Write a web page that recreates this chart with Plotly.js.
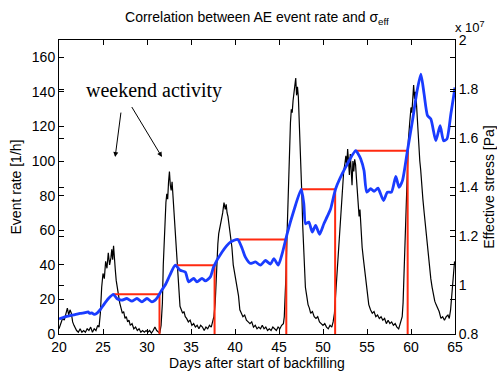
<!DOCTYPE html>
<html>
<head>
<meta charset="utf-8">
<script src="https://cdn.plot.ly/plotly-3.0.1.min.js"></script>
<style>html,body{margin:0;padding:0;background:#fff;}#chart{width:497px;height:371px;}</style>
</head>
<body>
<div id="chart"></div>
<script>
// ---- Event rate (black, left axis) ----
var rateDays = [20.0,20.2,20.4,20.6,20.8,20.95,21.1,21.25,21.4,21.55,21.7,21.85,22.0,22.2,22.4,22.6,22.8,23.0,23.2,23.4,23.6,23.8,24.0,24.2,24.4,24.55,24.7,24.85,25.0,25.15,25.3,25.45,25.6,25.75,25.9,26.0,26.1,26.2,26.3,26.4,26.5,26.6,26.75,26.9,27.05,27.2,27.35,27.5,27.65,27.8,27.95,28.1,28.3,28.5,28.7,28.9,29.1,29.3,29.5,29.7,29.9,30.1,30.3,30.5,30.7,30.9,31.1,31.3,31.45,31.6,31.75,31.85,31.95,32.05,32.15,32.25,32.35,32.45,32.55,32.65,32.75,32.85,32.95,33.05,33.15,33.25,33.35,33.45,33.55,33.65,33.75,33.9,34.05,34.2,34.35,34.5,34.7,34.9,35.1,35.3,35.5,35.7,35.9,36.1,36.3,36.5,36.7,36.9,37.1,37.3,37.45,37.6,37.75,37.85,37.95,38.05,38.15,38.3,38.45,38.6,38.75,38.9,39.0,39.1,39.2,39.35,39.5,39.65,39.8,39.95,40.1,40.25,40.4,40.55,40.7,40.9,41.1,41.3,41.5,41.7,41.9,42.1,42.3,42.5,42.7,42.9,43.1,43.3,43.5,43.7,43.9,44.1,44.3,44.5,44.7,44.9,45.1,45.3,45.5,45.6,45.7,45.8,45.9,46.0,46.1,46.2,46.3,46.4,46.5,46.6,46.7,46.8,46.9,47.0,47.1,47.2,47.3,47.4,47.5,47.6,47.7,47.8,47.9,48.0,48.15,48.3,48.45,48.6,48.8,49.0,49.2,49.4,49.6,49.8,50.0,50.2,50.4,50.6,50.8,51.0,51.15,51.3,51.45,51.6,51.75,51.9,52.05,52.2,52.35,52.5,52.6,52.7,52.8,52.9,53.0,53.1,53.2,53.3,53.4,53.5,53.6,53.7,53.8,53.9,54.0,54.1,54.2,54.3,54.45,54.6,54.75,54.9,55.05,55.2,55.4,55.6,55.8,56.0,56.2,56.4,56.6,56.8,57.0,57.2,57.4,57.6,57.8,58.0,58.2,58.4,58.6,58.8,59.0,59.1,59.2,59.3,59.4,59.5,59.6,59.7,59.85,60.0,60.1,60.2,60.3,60.4,60.5,60.6,60.7,60.8,60.9,61.0,61.1,61.2,61.35,61.5,61.65,61.8,61.95,62.1,62.25,62.4,62.55,62.7,62.85,63.0,63.2,63.4,63.6,63.8,64.0,64.2,64.35,64.5,64.65,64.8,64.95];
var rateValues = [3,6,9,8,12,15,11,14,12,7,5,3,2,1,3,1,2,1,3,2,4,1,3,2,5,4,12,27,35,32,42,38,47,40,44,49,43,51,46,37,31,27,22,18,15,12,13,9,10,7,8,5,6,3,4,2,3,1,2,1,2,1,2,0.5,2,4,2,1,0.5,5,18,40,56,70,76,81,78,88,94,86,83,88,80,72,66,56,46,37,28,20,16,14,12,13,10,9,7,8,5,6,4,5,3,5,4,2,4,3,5,4,7,10,18,32,45,52,58,63,66,70,76,72,75,70,68,62,56,50,40,36,30,27,22,14,12,10,11,8,7,6,7,4,5,3,4,3,5,3,4,2,3,2,4,3,2,4,3,5,6,10,20,35,55,75,95,108,122,130,128,135,140,145,148,138,143,137,125,110,95,80,62,48,36,27,22,17,15,12,13,10,9,10,7,6,5,6,4,3,5,4,7,12,24,35,48,62,75,86,94,99,103,97,107,100,92,104,95,86,100,94,101,98,90,82,70,68,72,60,50,43,36,27,22,17,14,12,13,10,11,9,10,8,9,6,8,6,7,5,6,4,3,6,10,18,33,50,70,85,100,112,122,131,128,138,144,136,140,135,125,118,108,100,95,85,78,70,62,55,45,40,32,27,22,19,17,15,13,9,10,8,10,11,9,14,24,32,42];

// ---- Effective stress (blue, right axis, units of 10^7 Pa) ----
var stressDays = [20.0,20.68,21.28,21.82,22.4,22.96,23.3,23.5,23.72,24.0,24.29,24.7,25.05,25.62,26.18,26.57,27.14,27.71,28.28,28.85,29.42,29.99,30.56,30.93,31.24,31.6,32.07,32.6,33.21,33.78,34.35,34.73,35.30,35.68,36.25,36.63,37.20,37.57,38.53,39.48,40.31,40.81,41.18,41.75,42.32,42.89,43.46,44.03,44.41,44.91,45.36,45.93,46.69,47.53,47.82,48.02,48.39,48.78,49.16,49.61,50.10,50.49,50.87,51.44,52.57,53.71,54.0,54.28,54.66,54.97,55.42,55.80,56.25,56.87,57.32,57.78,58.27,58.64,59.03,59.60,60.17,60.66,61.12,61.49,61.88,62.26,62.82,63.31,63.70,64.08,64.53,65.0];
var stressValues = [0.861,0.870,0.875,0.879,0.884,0.887,0.890,0.884,0.886,0.880,0.884,0.900,0.918,0.945,0.962,0.945,0.938,0.945,0.934,0.945,0.931,0.945,0.931,0.938,0.952,0.975,1.000,1.040,1.081,1.060,1.053,1.013,1.027,1.013,1.027,1.017,1.033,1.074,1.135,1.175,1.186,1.149,1.114,1.088,1.094,1.081,1.100,1.085,1.108,1.081,1.128,1.210,1.304,1.391,1.332,1.250,1.257,1.216,1.243,1.207,1.250,1.280,1.311,1.393,1.481,1.548,1.535,1.515,1.467,1.379,1.393,1.382,1.395,1.345,1.379,1.379,1.443,1.399,1.426,1.549,1.671,1.786,1.861,1.779,1.691,1.677,1.589,1.650,1.589,1.596,1.698,1.806];

// ---- Stress steps (red, right axis) ----
var stepStart = [26.2, 33.3, 40.3, 47.5, 53.75];
var stepEnd   = [31.42, 37.68, 45.83, 51.38, 59.62];
var stepLevel = [0.962, 1.081, 1.186, 1.391, 1.548];
var stepFloor = 0.8;

// ---- Ticks ----
var xTicks = [20,25,30,35,40,45,50,55,60,65];
var leftTicks = [0,20,40,60,80,100,120,140,160];
var rightTicks = [0.8,1.0,1.2,1.4,1.6,1.8,2.0];
var rightTickLabels = ['0.8','1','1.2','1.4','1.6','1.8','2'];

var redX = [], redY = [];
for (var i = 0; i < stepStart.length; i++) {
  redX.push(stepStart[i], stepEnd[i], stepEnd[i], null);
  redY.push(stepLevel[i], stepLevel[i], stepFloor, null);
}

var traces = [
  {x: rateDays, y: rateValues, type:'scatter', mode:'lines', line:{color:'black', width:1.2}, yaxis:'y', hoverinfo:'skip'},
  {x: redX, y: redY, type:'scatter', mode:'lines', line:{color:'#ff2a10', width:2}, yaxis:'y2', connectgaps:false, hoverinfo:'skip'},
  {x: stressDays, y: stressValues, type:'scatter', mode:'lines', line:{color:'#1a3cff', width:2.8, shape:'spline', smoothing:0.6}, yaxis:'y2', hoverinfo:'skip'}
];

var axisCommon = {showgrid:false, zeroline:false, showline:true, linecolor:'black', linewidth:1, ticks:'inside', ticklen:5, tickcolor:'black', tickwidth:1, tickfont:{size:14, color:'black'}};

var layout = {
  width:497, height:371,
  margin:{l:59, r:42, t:40, b:37, pad:0},
  paper_bgcolor:'white', plot_bgcolor:'white',
  showlegend:false,
  font:{family:'Liberation Sans, Arial, sans-serif', size:14, color:'black'},
  title:{text:'Correlation between AE event rate and σ<sub>eff</sub>', x:0.517, xanchor:'center', y:0.955, yanchor:'middle', font:{size:14, color:'black'}},
  xaxis: Object.assign({}, axisCommon, {range:[20,65], tickvals:xTicks, mirror:'ticks', title:{text:'Days after start of backfilling', standoff:3, font:{size:14}}}),
  yaxis: Object.assign({}, axisCommon, {range:[0,170], tickvals:leftTicks, mirror:'ticks', title:{text:'Event rate [1/h]', standoff:6, font:{size:14}}}),
  yaxis2: Object.assign({}, axisCommon, {range:[0.8,2.0], tickvals:rightTicks, ticktext:rightTickLabels, overlaying:'y', side:'right', mirror:'ticks', title:{text:'Effective stress [Pa]', standoff:6, font:{size:14}}}),
  annotations:[
    {xref:'paper', yref:'paper', x:0.995, y:1.045, xanchor:'left', yanchor:'middle', text:'x 10<sup>7</sup>', showarrow:false, font:{size:13, color:'black'}},
    {xref:'x', yref:'y', x:30.82, y:140.8, text:'weekend activity', showarrow:false, font:{family:'Liberation Serif, Times New Roman, serif', size:20, color:'black'}},
    {xref:'x', yref:'y', x:26.38, y:102.3, axref:'x', ayref:'y', ax:27.06, ay:128.9, text:'', showarrow:true, arrowhead:2, arrowsize:1, arrowwidth:1, arrowcolor:'black', standoff:0},
    {xref:'x', yref:'y', x:31.70, y:102.3, axref:'x', ayref:'y', ax:28.17, ay:132.1, text:'', showarrow:true, arrowhead:2, arrowsize:1, arrowwidth:1, arrowcolor:'black', standoff:0}
  ]
};

Plotly.newPlot('chart', traces, layout, {staticPlot:true, displayModeBar:false});
</script>
</body>
</html>
